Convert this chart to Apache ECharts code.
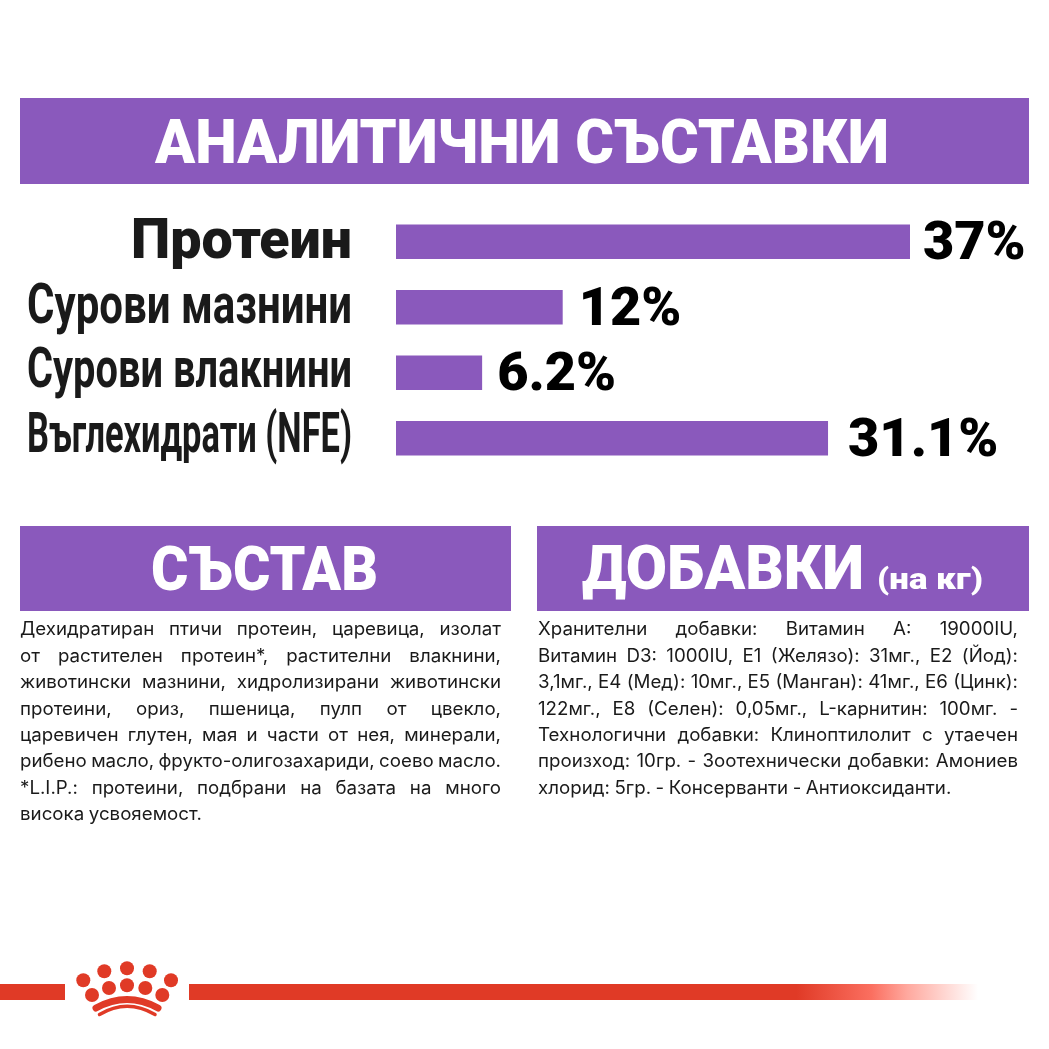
<!DOCTYPE html>
<html>
<head>
<meta charset="utf-8">
<style>html,body{margin:0;padding:0;background:#fff}#chart{width:1049px;height:1049px}</style>
<script src="https://cdn.jsdelivr.net/npm/echarts@6/dist/echarts.min.js"></script>
</head>
<body>
<div id="chart"></div>
<script>
// data
var categories = ['Протеин', 'Сурови мазнини', 'Сурови влакнини', 'Въглехидрати (NFE)'];
var values = [37, 12, 6.2, 31.1];
var valueLabels = ['37%', '12%', '6.2%', '31.1%'];
var mainTitle = 'АНАЛИТИЧНИ СЪСТАВКИ';
var leftTitle = 'СЪСТАВ';
var rightTitle = 'ДОБАВКИ';
var rightTitleSmall = '(на кг)';
var leftLines = [
  'Дехидратиран птичи протеин, царевица, изолат',
  'от растителен протеин*, растителни влакнини,',
  'животински мазнини, хидролизирани животински',
  'протеини, ориз, пшеница, пулп от цвекло,',
  'царевичен глутен, мая и части от нея, минерали,',
  'рибено масло, фрукто-олигозахариди, соево масло.',
  '*L.I.P.: протеини, подбрани на базата на много',
  'висока усвояемост.'
];
var rightLines = [
  'Хранителни добавки: Витамин А: 19000IU,',
  'Витамин D3: 1000IU, Е1 (Желязо): 31мг., Е2 (Йод):',
  '3,1мг., Е4 (Мед): 10мг., Е5 (Манган): 41мг., Е6 (Цинк):',
  '122мг., Е8 (Селен): 0,05мг., L-карнитин: 100мг. -',
  'Технологични добавки: Клиноптилолит с утаечен',
  'произход: 10гр. - Зоотехнически добавки: Амониев',
  'хлорид: 5гр. - Консерванти - Антиоксиданти.'
];

var PURPLE = '#8a59bc';
var RED = '#e03a26';
var INK = '#1a1a1a';
var ctx = document.createElement('canvas').getContext('2d');

function textWidth (str, font) {
  ctx.font = font;
  return ctx.measureText(str).width;
}

// text squeezed or stretched to the width it has in the picture, middleY is the middle of the capitals
function fitText (str, left, right, middleY, weight, size, color) {
  var font = weight + ' ' + size + 'px Roboto';
  return {
    type: 'text',
    x: left,
    y: middleY + size * 0.08,
    scaleX: (right - left) / textWidth(str, font),
    style: { text: str, font: font, fill: color, textVerticalAlign: 'middle', textAlign: 'left' }
  };
}

// one justified block of small text, word by word
function textBlock (lines, left, right, firstY, pitch, lastJustified) {
  var font = '400 18px Inter';
  var out = [];
  lines.forEach(function (line, i) {
    var words = line.split(' ');
    var widths = words.map(function (w) { return textWidth(w, font); });
    var sum = widths.reduce(function (a, b) { return a + b; }, 0);
    var gap = 4.5;
    var scale = 1.04;
    if (i < lastJustified && words.length > 1) {
      gap = (right - left - sum * scale) / (words.length - 1);
      if (gap < 3) {
        gap = 3;
        scale = (right - left - gap * (words.length - 1)) / sum;
      }
    }
    var x = left;
    words.forEach(function (w, k) {
      out.push({
        type: 'text', x: x, y: firstY + i * pitch, scaleX: scale,
        style: { text: w, font: font, fill: INK, textVerticalAlign: 'middle', textAlign: 'left' }
      });
      x += widths[k] * scale + gap;
    });
  });
  return out;
}

function banner (x, y, w, h) {
  return { type: 'rect', shape: { x: x, y: y, width: w, height: h }, style: { fill: PURPLE } };
}

function dot (x, y, r) {
  return { type: 'circle', shape: { cx: x, cy: y, r: r }, style: { fill: RED } };
}

function arc (x1, y1, cx, cy, x2, y2, w) {
  return {
    type: 'bezierCurve',
    shape: { x1: x1, y1: y1, cpx1: cx, cpy1: cy, x2: x2, y2: y2 },
    style: { stroke: RED, lineWidth: w, fill: null, lineCap: 'round' }
  };
}

var elements = [
  banner(20, 98, 1009, 86),
  banner(20, 526, 491, 85),
  banner(537, 526, 492, 85),
  fitText(mainTitle, 155, 889, 143, 900, 62, '#fff'),
  fitText(leftTitle, 151, 378, 570, 900, 62, '#fff'),
  fitText(rightTitle, 582, 864, 569, 900, 62, '#fff'),
  fitText(rightTitleSmall, 877, 983, 579, 900, 30, '#fff'),
  // red line with the fade out on the right
  { type: 'rect', shape: { x: 0, y: 984, width: 65, height: 16 }, style: { fill: RED } },
  {
    type: 'rect',
    shape: { x: 189, y: 984, width: 789, height: 16 },
    style: {
      fill: new echarts.graphic.LinearGradient(0, 0, 1, 0, [
        { offset: 0, color: RED },
        { offset: 0.77, color: RED },
        { offset: 0.865, color: '#fb6f60' },
        { offset: 0.91, color: '#ffa89e' },
        { offset: 1, color: '#ffffff' }
      ])
    }
  },
  // crown
  dot(83.3, 980.3, 7), dot(104.3, 971.3, 7), dot(127, 968.3, 7), dot(149.7, 971.3, 7), dot(171, 980.3, 7),
  dot(92, 995, 7), dot(109, 988, 7), dot(127, 985.3, 7), dot(145.3, 988, 7), dot(162.3, 995, 7),
  arc(96, 1008, 127, 991, 158, 1008, 7),
  arc(99.5, 1014.5, 127, 998, 155, 1014.5, 3.5)
].concat(
  textBlock(leftLines, 20, 501, 630, 26.4, 7),
  textBlock(rightLines, 538, 1018, 630, 26.4, 6)
);

var chart = echarts.init(document.getElementById('chart'));
var option = {
  backgroundColor: '#fff',
  animation: false,
  grid: { left: 396, top: 209, width: 514, height: 262, outerBoundsMode: 'none' },
  xAxis: { type: 'value', min: 0, max: 37, show: false },
  yAxis: {
    type: 'category',
    inverse: true,
    data: categories,
    axisLine: { show: false },
    axisTick: { show: false },
    axisLabel: { show: false }
  },
  series: [{
    type: 'bar',
    barWidth: 34.5,
    itemStyle: { color: PURPLE },
    data: values.map(function (v, i) {
      return { value: v, label: { distance: [13, 16, 15, 20][i] } };
    }),
    label: {
      show: true,
      position: 'right',
      offset: [0, 4],
      fontFamily: 'Roboto',
      fontWeight: 900,
      fontSize: 54,
      color: '#000',
      formatter: function (p) { return valueLabels[p.dataIndex]; }
    }
  }],
  graphic: { elements: elements }
};
chart.setOption(option, true);

// category names sit on the axis bands, condensed the way the picture has them
var nameLefts = [131, 27, 27, 27];
var nameShift = [-2, -3, -4, -5];
var names = categories.map(function (name, i) {
  var y = chart.convertToPixel({ yAxisIndex: 0 }, name);
  return fitText(name, nameLefts[i], 352, y + nameShift[i], i === 0 ? 900 : 700, 56, INK);
});
chart.setOption({ graphic: { elements: elements.concat(names) } });
</script>
</body>
</html>
